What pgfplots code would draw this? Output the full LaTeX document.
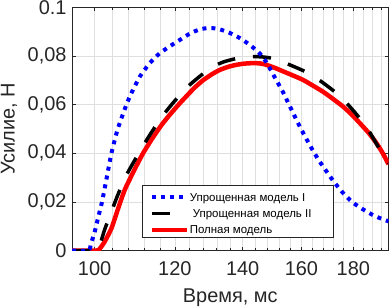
\documentclass[border=0pt]{standalone}
\usepackage{fontspec}
\setmainfont{Liberation Sans}
\usepackage{pgfplots}
\usepackage{pgfplotstable}
\pgfplotsset{compat=1.18}
\definecolor{gridc}{RGB}{223,223,223}
\definecolor{axc}{RGB}{38,38,38}
\definecolor{mblue}{RGB}{0,0,255}
\definecolor{mred}{RGB}{255,0,0}

\pgfplotstableread{
x y
95 0
100.5 0
101.2 0.0008
102.3 0.0036
103.9 0.0091
105.4 0.0168
107.1 0.0250
109.5 0.0333
111.6 0.0399
114.2 0.0466
116.5 0.0518
118.6 0.0558
121.0 0.0600
123.2 0.0635
125.5 0.0670
127.9 0.0700
130.5 0.0725
132.9 0.0743
135.5 0.0756
138.0 0.0764
140.5 0.0769
143.3 0.0771
145.5 0.0770
147.5 0.0765
150.5 0.0752
153.5 0.0737
157.0 0.0720
160.6 0.0702
164.0 0.0680
168.1 0.0653
172.0 0.0623
175.9 0.0592
179.5 0.0558
182.8 0.0523
186.5 0.0483
189.8 0.0441
192.5 0.0400
195.0 0.0355
}\fullmodel

\pgfplotstableread{
x y
95 0
100.3 0
101.0 0.0012
102.3 0.0085
103.9 0.0160
105.4 0.0228
107.5 0.0310
109.5 0.0370
112.0 0.0440
114.2 0.0496
117.0 0.0560
120.4 0.0623
124.0 0.0680
127.9 0.0727
131.0 0.0757
134.0 0.0776
138.0 0.0790
142.0 0.0797
146.0 0.0797
150.0 0.0790
155.0 0.0768
161.8 0.0734
167.0 0.0698
172.6 0.0653
177.0 0.0610
182.0 0.0552
186.5 0.0492
191.2 0.0415
195.0 0.0360
}\modeltwo

\pgfplotstableread{
x y
95 0
98.6 0
99.2 0.0030
100.0 0.0075
100.8 0.0135
101.7 0.0200
102.8 0.0300
103.9 0.0400
105.4 0.0500
107.5 0.0600
108.8 0.0650
110.8 0.0715
113.3 0.0770
115.9 0.0811
118.6 0.0840
121.3 0.0866
124.1 0.0892
127.0 0.0910
129.9 0.0916
132.9 0.0910
136.0 0.0895
139.1 0.0874
142.3 0.0846
145.6 0.0810
148.0 0.0770
150.0 0.0725
153.5 0.0650
156.4 0.0580
159.4 0.0510
163.0 0.0435
166.2 0.0375
168.1 0.0345
171.4 0.0295
175.4 0.0242
179.5 0.0200
183.6 0.0172
187.8 0.0148
191.0 0.0134
195.0 0.0120
}\modelone

\begin{document}
\begin{tikzpicture}
\begin{axis}[
  scale only axis, width=316.5bp, height=243bp,
  xmode=log, xmin=95, xmax=195, ymin=0, ymax=0.1,
  xtick={100,120,140,160,180}, xticklabels={100,120,140,160,180},
  minor xtick={104,108,112,116,124,128,132,136,144,148,152,156,164,168,172,176,184,188,192},
  ytick={0,0.02,0.04,0.06,0.08,0.1},
  yticklabels={0,{0,02},{0,04},{0,06},{0,08},0.1},
  grid=both,
  major grid style={gridc, line width=0.5bp},
  minor grid style={gridc, line width=0.5bp},
  tick align=inside, major tick length=4bp, minor tick length=2.5bp,
  axis line style={axc, line width=0.6bp},
  every tick/.style={axc, line width=0.6bp},
  /pgf/number format/assume math mode=true,
  ticklabel style={font=\fontsize{20}{22}\selectfont, text=axc},
  xticklabel style={yshift=-8bp},
  yticklabel style={xshift=-2bp},
  xlabel={Время, мс}, ylabel={Усилие, Н},
  label style={font=\fontsize{20}{22}\selectfont, text=axc},
  xlabel style={at={(axis description cs:0.5,-0.214)}, anchor=base},
  ylabel style={at={(axis description cs:-0.1817,0.5)}, anchor=base},
  legend style={at={(rel axis cs:0.222,0.0543)}, anchor=south west,
    draw=axc, line width=0.6bp, fill=white,
    font=\fontsize{11.5}{13}\selectfont,
    inner xsep=6.7bp, inner ysep=1.625bp,
    cells={anchor=base west},
    nodes={inner xsep=0bp, inner ysep=1bp, text height=13.575bp, text depth=0.675bp},
    /tikz/column sep=0pt, /tikz/row sep=0pt},
  legend image code/.code={\draw[#1] (0bp,3.8bp) -- (35bp,3.8bp);},
]
\addlegendimage{mblue, line width=4bp, dash pattern=on 4bp off 5bp}
\addlegendentry{\makebox[138bp][l]{\hspace{1bp}Упрощенная модель I}}
\addlegendimage{black, line width=3.5bp, dash pattern=on 18bp off 18bp}
\addlegendentry{\makebox[138bp][l]{\hspace{4bp}Упрощенная модель II}}
\addlegendimage{mred, line width=4.5bp}
\addlegendentry{\makebox[138bp][l]{\hspace{1bp}Полная модель}}

\addplot[forget plot, mred, line width=4.5bp, smooth, tension=0.4] table[x=x,y=y]{\fullmodel};
\addplot[forget plot, black, line width=3.5bp, dash pattern=on 18bp off 18bp, smooth, tension=0.4] table[x=x,y=y]{\modeltwo};
\addplot[forget plot, mblue, line width=4bp, dash pattern=on 4bp off 5bp, smooth, tension=0.4] table[x=x,y=y]{\modelone};
\end{axis}
\pgfresetboundingbox
\path[use as bounding box] ([xshift=-72bp,yshift=-57.5bp]current axis.south west) rectangle ([xshift=2.5bp,yshift=7.5bp]current axis.north east);
\end{tikzpicture}
\end{document}
